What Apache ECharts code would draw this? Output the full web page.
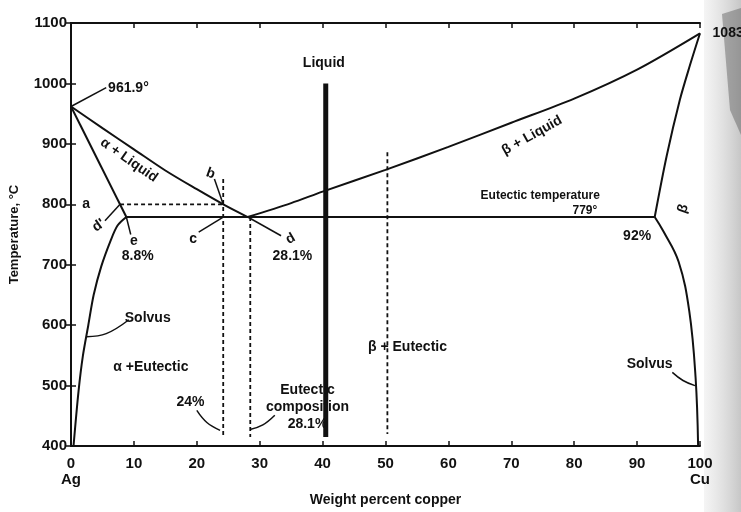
<!DOCTYPE html>
<html><head><meta charset="utf-8">
<script src="https://cdn.jsdelivr.net/npm/echarts@6/dist/echarts.min.js"></script>
<style>html,body{margin:0;padding:0;background:#fff}#c{width:741px;height:512px}</style>
</head><body><div id="c"></div>
<script>
// ---- data (weight % Cu, temperature °C) ----
const liquidusLeft = [[0,961.9],[5,926],[10,891],[15,856],[20,825],[24.2,800],[28.1,779]];
const solidusLeft = [[0,961.9],[8.8,779]];
const solvusLeft = [[8.8,779],[7.4,765],[6.3,740],[4.8,697],[3.6,650],[2.75,600],[1.9,550],[1.2,491],[0.4,400]];
const liquidusRight = [[28.1,779],[35,802],[40,821],[50,857],[60,895],[70,935],[80,975],[90,1023],[100,1083]];
const solidusRight = [[100,1083],[98.4,1030],[96.8,973],[94.7,880],[92.8,779]];
const solvusRight = [[92.8,779],[94.2,755],[96.6,705],[98.3,623],[99.3,513],[99.7,400]];
const eutecticLine = [[8.8,779],[92.8,779]];
const dashed800 = [[7.8,800],[24.2,800]];
const alloy24 = [[24.2,842],[24.2,415]];
const alloy281 = [[28.5,779],[28.5,415]];
const alloy50 = [[50.3,886],[50.3,420]];
const liquidBar = [[40.5,1000],[40.5,415]];
const leaders = [
  [[0,961.9],[5.6,993]],
  [[7.8,800],[5.4,773]],
  [[8.8,779],[9.5,750]],
  [[24.2,779],[20.3,754]],
  [[24.2,800],[22.8,842]],
  [[28.1,779],[33.4,748]],
  [[2.5,581],[5.6,586],[9.2,609]],
  [[23.7,426],[21.6,439],[20,459]],
  [[28.6,428],[30.5,435],[32.4,451]],
  [[99.2,500],[97.3,508.5],[95.6,522]]
];
const labelTexts = ['961.9°','Liquid','α + Liquid','d\'','e','8.8%','c','b','d','28.1%',
  'Eutectic temperature','779°','β + Liquid','β','92%','Solvus','α +Eutectic','24%',
  'Eutectic\ncomposition\n28.1%','β + Eutectic','Solvus','a','1083°'];
const labelAnchors = [[5.9,993],[40.2,1034],[9.2,873],[4.4,765],[10,738.5],[10.6,714],[19.4,743],[22.2,851],[34.9,743],[35.2,714],
  [74.6,814],[81.7,789],[73.3,914],[97.3,793],[90,747],[12.2,612],[12.7,530],[19,472],
  [37.6,464],[53.5,563],[92,535],[2.4,800],[102,1083]];
const labelAngles = [0,0,-35,35,0,0,0,-20,30,0,0,0,29,70,0,0,0,0,0,0,0,0,0];
const leftAligned = {0:true, 22:true};
const smallSize = {10:12, 11:12};

const FONT = '"Liberation Sans", Arial, sans-serif';
const INK = '#111';
function line(data, width, dashed, smooth) {
  return {type:'line', data, showSymbol:false, symbol:'none', silent:true, animation:false,
    smooth: smooth || false,
    lineStyle:{color:INK, width:width||2, type: dashed ? [4,3] : 'solid'}, z:3};
}
const series = [
  line(liquidusLeft, 2, false, 0.3), line(solidusLeft, 2), line(solvusLeft, 2, false, 0.3),
  line(liquidusRight, 2, false, 0.3), line(solidusRight, 2, false, 0.3), line(solvusRight, 2, false, 0.4),
  line(eutecticLine, 2), line(dashed800, 1.8, true),
  line(alloy24, 1.8, true), line(alloy281, 1.8, true), line(alloy50, 1.8, true),
  line(liquidBar, 5)
];
leaders.forEach(l => series.push(line(l, 1.5, false, 0.4)));
series.push({
  type:'scatter', symbolSize:0, silent:true, animation:false, clip:false, z:5,
  itemStyle:{color:INK, opacity:1},
  data: labelTexts.map((t,i) => ({
    value: labelAnchors[i],
    label: {show:true, formatter: t, rotate: labelAngles[i], position:'inside',
      color:INK, fontFamily:FONT, fontWeight:'bold', opacity:1,
      align: leftAligned[i] ? 'left' : 'center', verticalAlign:'middle',
      fontSize: smallSize[i] || 14, lineHeight: 17}
  }))
});

const chart = echarts.init(document.getElementById('c'), null, {renderer:'canvas'});
chart.setOption({
  backgroundColor:'#fff',
  animation:false,
  grid:{left:70, right:41, top:23, bottom:63, containLabel:false},
  xAxis:[{
    type:'value', min:0, max:100, interval:10, position:'bottom',
    axisLine:{lineStyle:{color:INK, width:2}},
    axisTick:{inside:true, length:5, lineStyle:{color:INK, width:1.5}},
    splitLine:{show:false},
    axisLabel:{color:INK, fontFamily:FONT, fontWeight:'bold', fontSize:15, margin:10, lineHeight:16,
      formatter: v => v===0 ? '0\nAg' : (v===100 ? '100\nCu' : String(v))},
    name:'Weight percent copper', nameLocation:'middle', nameGap:42,
    nameTextStyle:{color:INK, fontFamily:FONT, fontWeight:'bold', fontSize:14}
  },{
    type:'value', min:0, max:100, interval:10, position:'top',
    axisLine:{lineStyle:{color:INK, width:2}},
    axisTick:{inside:true, length:5, lineStyle:{color:INK, width:1.5}},
    axisLabel:{show:false}, splitLine:{show:false}
  }],
  yAxis:[{
    type:'value', min:400, max:1100, interval:100, position:'left',
    axisLine:{show:true, lineStyle:{color:INK, width:2}},
    axisTick:{show:true, inside:true, length:5, lineStyle:{color:INK, width:1.5}},
    splitLine:{show:false},
    axisLabel:{color:INK, fontFamily:FONT, fontWeight:'bold', fontSize:15, margin:4, formatter: v => String(v)},
    name:'Temperature, °C', nameLocation:'middle', nameGap:50, nameRotate:90,
    nameTextStyle:{color:INK, fontFamily:FONT, fontWeight:'bold', fontSize:13}
  },{
    type:'value', min:400, max:1100, interval:100, position:'right',
    axisLine:{show:true, lineStyle:{color:INK, width:2}},
    axisTick:{show:true, inside:true, length:5, lineStyle:{color:INK, width:1.5}},
    axisLabel:{show:false}, splitLine:{show:false}
  }],
  graphic:[
    {type:'rect', z:-1, shape:{x:704, y:0, width:37, height:512},
     style:{fill:new echarts.graphic.LinearGradient(0,0,1,0,[{offset:0,color:'rgba(170,170,170,0.12)'},{offset:1,color:'rgba(130,130,130,0.45)'}])}},
    {type:'polygon', z:-1, shape:{points:[[722,14],[741,8],[741,135],[730,110]]},
     style:{fill:'rgba(90,90,90,0.45)'}}
  ],
  series
});
</script></body></html>
